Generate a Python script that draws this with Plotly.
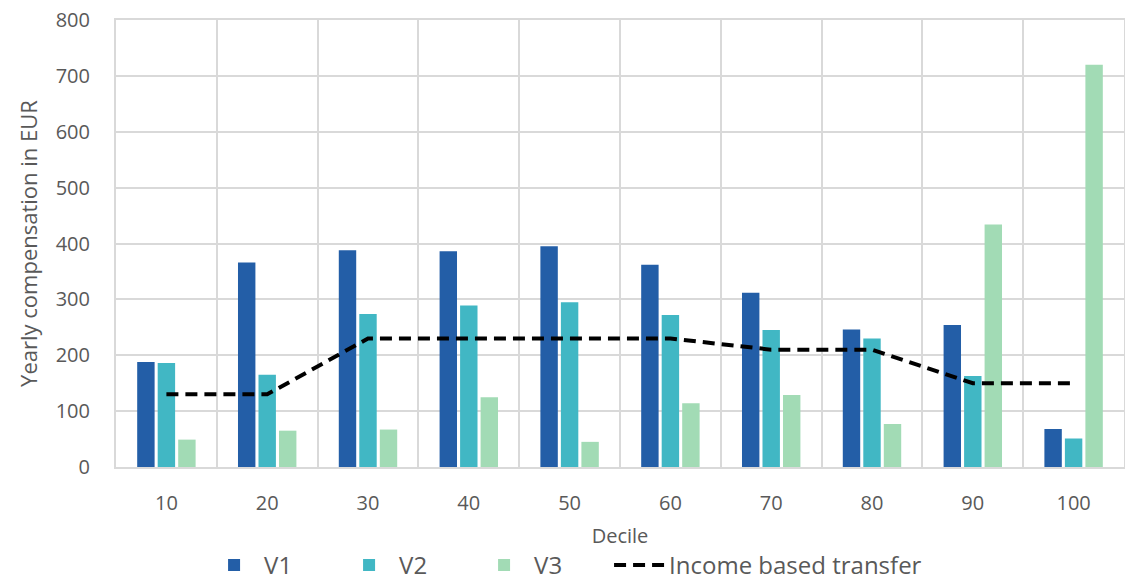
import plotly.graph_objects as go

deciles = [10, 20, 30, 40, 50, 60, 70, 80, 90, 100]
v1 = [188, 366, 388, 386, 395, 362, 312, 246, 254, 68]
v2 = [186, 165, 274, 289, 295, 272, 245, 230, 163, 51]
v3 = [49, 65, 67, 125, 45, 114, 129, 77, 434, 720]
income_transfer = [130, 130, 230, 230, 230, 230, 210, 210, 150, 150]
tick_labels = [str(d) for d in deciles]
y_ticks = [0, 100, 200, 300, 400, 500, 600, 700, 800]

FONT = "Open Sans"
TXT = "#595959"
GRID = "#d9d9d9"

fig = go.Figure()
fig.add_trace(go.Bar(x=deciles, y=v1, name="V1", legendwidth=70, marker=dict(color="#235ea7", line=dict(width=0))))
fig.add_trace(go.Bar(x=deciles, y=v2, name="V2", legendwidth=70, marker=dict(color="#41b7c4", line=dict(width=0))))
fig.add_trace(go.Bar(x=deciles, y=v3, name="V3", legendwidth=70, marker=dict(color="#a2dbb5", line=dict(width=0))))
fig.add_trace(go.Scatter(x=deciles, y=income_transfer, name="Income based transfer", mode="lines",
                         line=dict(color="black", width=4, dash="12px,7px")))

fig.update_layout(
    width=1125, height=581, autosize=False,
    margin=dict(l=116, r=1, t=20, b=114, autoexpand=False),
    paper_bgcolor="white", plot_bgcolor="white",
    barmode="group", bargap=0.39, bargroupgap=0.15,
    font=dict(family=FONT, color=TXT, size=20),
    showlegend=True,
    legend=dict(orientation="h", x=0.446, xanchor="center", y=-0.22, yanchor="middle",
                font=dict(size=24, color=TXT), itemwidth=50, traceorder="normal"),
)
fig.update_xaxes(
    type="linear", range=[5, 105],
    tickmode="array", tickvals=deciles, ticktext=tick_labels,
    showgrid=False, zeroline=False,
    showline=True, linecolor=GRID, linewidth=2, mirror=True,
    minor=dict(tickmode="linear", tick0=5, dtick=10, showgrid=True, gridcolor=GRID, gridwidth=2),
    ticklabelstandoff=17,
    title=dict(text="Decile", font=dict(size=20, color=TXT), standoff=14),
    tickfont=dict(size=20, color=TXT),
)
fig.update_yaxes(
    range=[0, 800], tickmode="array", tickvals=y_ticks,
    showgrid=True, gridcolor=GRID, gridwidth=2, zeroline=False,
    showline=True, linecolor=GRID, linewidth=2, mirror=True,
    ticklabelstandoff=20,
    title=dict(text="Yearly compensation in EUR", font=dict(size=22, color=TXT), standoff=12),
    tickfont=dict(size=20, color=TXT),
)

fig.write_html("out.html")
